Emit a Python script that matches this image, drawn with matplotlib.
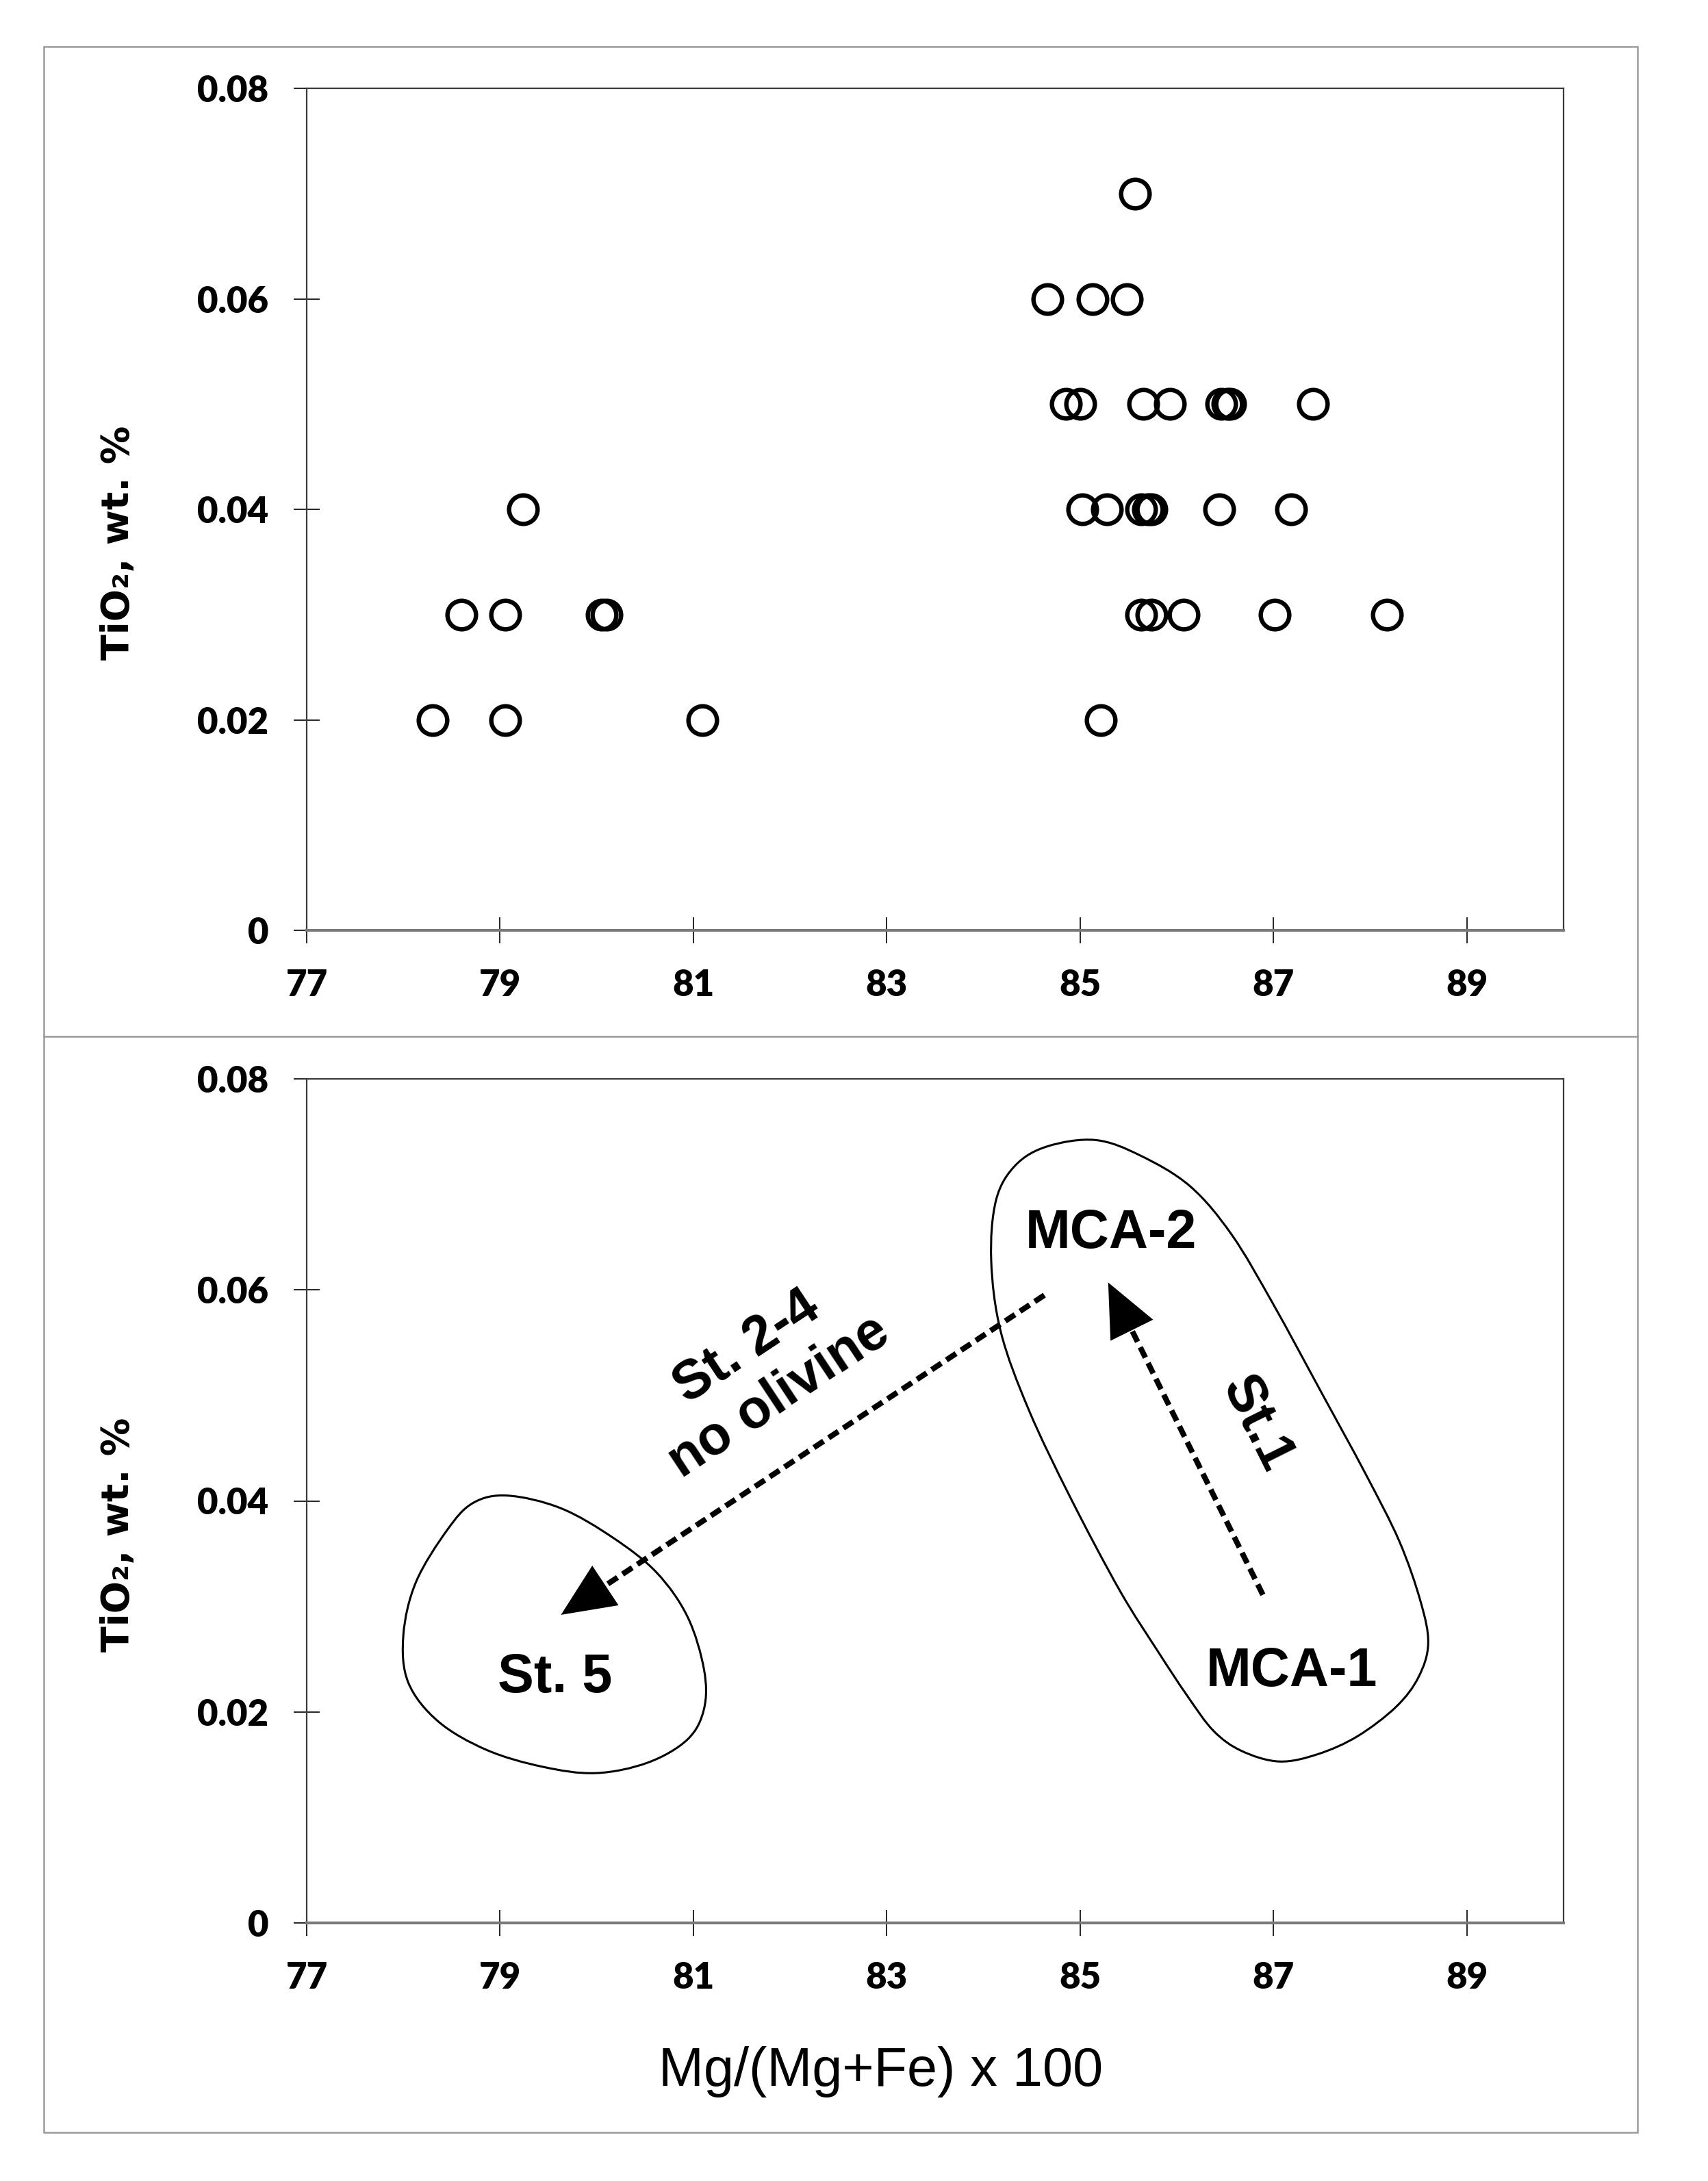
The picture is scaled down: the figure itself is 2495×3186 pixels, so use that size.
import numpy as np
import matplotlib
matplotlib.use("Agg")
import matplotlib.pyplot as plt
from matplotlib.path import Path
from matplotlib.patches import PathPatch, Rectangle
from matplotlib.lines import Line2D

# ---------------- data ----------------
top_x = [78.30, 78.60, 79.05, 79.05, 79.24, 80.05, 80.10, 81.09,
         85.57,
         84.66, 85.13, 85.48,
         84.85, 85.00, 85.65, 85.93, 86.46, 86.52, 86.55, 87.41,
         85.02, 85.28, 85.63, 85.70, 85.74, 86.44, 87.18,
         85.63, 85.74, 86.07, 87.01, 88.17,
         85.21]
top_y = [0.02, 0.03, 0.02, 0.03, 0.04, 0.03, 0.03, 0.02,
         0.07,
         0.06, 0.06, 0.06,
         0.05, 0.05, 0.05, 0.05, 0.05, 0.05, 0.05, 0.05,
         0.04, 0.04, 0.04, 0.04, 0.04, 0.04, 0.04,
         0.03, 0.03, 0.03, 0.03, 0.03,
         0.02]

x_ticks = [77, 79, 81, 83, 85, 87, 89]
y_ticks = [0, 0.02, 0.04, 0.06, 0.08]
y_ticklabels = ["0", "0.02", "0.04", "0.06", "0.08"]

# field outlines (bottom panel)
st5_x = [79.08, 79.63, 80.17, 80.62, 80.94, 81.11, 81.11, 80.94, 80.53, 79.99,
         79.44, 78.86, 78.36, 78.05, 78.00, 78.13, 78.45, 78.72]
st5_y = [0.0405, 0.0393, 0.0365, 0.0332, 0.0290, 0.0240, 0.0203, 0.0174, 0.0152, 0.0142,
         0.0148, 0.0164, 0.0191, 0.0228, 0.0273, 0.0323, 0.0372, 0.0398]

mca_x = [84.66, 85.16, 85.63, 86.14, 86.57, 87.00, 87.50, 87.95, 88.30, 88.52,
         88.60, 88.50, 88.27, 87.87, 87.46, 87.06, 86.67, 86.38, 86.11, 85.80,
         85.41, 84.90, 84.47, 84.18, 84.08, 84.13, 84.33]
mca_y = [0.0736, 0.0742, 0.0727, 0.0698, 0.0652, 0.0586, 0.0502, 0.0426, 0.0362, 0.0305,
         0.0265, 0.0233, 0.0205, 0.0177, 0.0160, 0.0153, 0.0163, 0.0182, 0.0215, 0.0258,
         0.0315, 0.0403, 0.0486, 0.0560, 0.0628, 0.0685, 0.0718]

# arrows: (tail, tip)
arrow_tails = [(84.63, 0.0595), (86.89, 0.0311)]
arrow_tips = [(79.63, 0.0292), (85.29, 0.0607)]

labels = ["MCA-2", "MCA-1", "St. 5", "St.1", "St. 2-4\nno olivine"]
label_x = [85.32, 87.19, 79.57, 86.82, 81.72]
label_y = [0.0653, 0.0238, 0.0232, 0.0473, 0.0522]
label_rot = [0, 0, 0, -63.5, 33.5]

xlabel = "Mg/(Mg+Fe) x 100"
ylabel = "TiO\u2082, wt. %"

# ---------------- figure ----------------
W, H = 2495, 3186
fig = plt.figure(figsize=(W / 100, H / 100), dpi=100)
fig.patch.set_facecolor("white")

ax_left, ax_right = 448 / W, 2284 / W
top_ax = fig.add_axes([ax_left, 1 - 1359 / H, ax_right - ax_left, (1359 - 129) / H])
bot_ax = fig.add_axes([ax_left, 1 - 2809 / H, ax_right - ax_left, (2809 - 1576) / H])

tick_font = dict(family=["Lato", "DejaVu Sans"], weight="heavy", size=38)


def style_axes(ax):
    ax.set_xlim(77, 90)
    ax.set_ylim(0, 0.08)
    ax.set_xticks(x_ticks)
    ax.set_xticklabels([str(v) for v in x_ticks], fontdict=tick_font)
    ax.set_yticks(y_ticks)
    ax.set_yticklabels(y_ticklabels, fontdict=tick_font)
    ax.tick_params(axis="both", direction="inout", length=28, width=1.2,
                   color="black", pad=26)
    ax.tick_params(axis="x", top=False)
    ax.tick_params(axis="y", right=False)
    for s in ["top", "right", "left"]:
        ax.spines[s].set_linewidth(1.6)
        ax.spines[s].set_color("#3a3a3a")
    ax.spines["bottom"].set_linewidth(3.0)
    ax.spines["bottom"].set_color("#7a7a7a")
    ax.set_ylabel(ylabel, family=["DejaVu Sans"], weight="bold", size=40)
    ax.yaxis.set_label_coords(-0.135, 0.46)


style_axes(top_ax)
style_axes(bot_ax)

# top panel scatter
top_ax.plot(top_x, top_y, linestyle="none", marker="o", markersize=30,
            markerfacecolor="none", markeredgecolor="black", markeredgewidth=4.6)


# smooth closed outline through points (Catmull-Rom as cubic Bezier)
def closed_smooth_path(xs, ys):
    P = np.column_stack([xs, ys])
    n = len(P)
    verts = [P[0]]
    codes = [Path.MOVETO]
    for i in range(n):
        p0, p1, p2, p3 = P[(i - 1) % n], P[i], P[(i + 1) % n], P[(i + 2) % n]
        c1 = p1 + (p2 - p0) / 6.0
        c2 = p2 - (p3 - p1) / 6.0
        verts += [c1, c2, p2]
        codes += [Path.CURVE4] * 3
    return Path(np.array(verts), codes)


for xs, ys in [(st5_x, st5_y), (mca_x, mca_y)]:
    bot_ax.add_patch(PathPatch(closed_smooth_path(xs, ys), facecolor="none",
                               edgecolor="black", lw=2.2))

for (tx, ty), (hx, hy) in zip(arrow_tails, arrow_tips):
    ex = tx + 0.93 * (hx - tx)
    ey = ty + 0.93 * (hy - ty)
    bot_ax.plot([tx, ex], [ty, ey], color="black", lw=5.8,
                linestyle=(0, (2.1, 1.1)), dash_capstyle="butt")
    bot_ax.annotate("", xy=(hx, hy), xytext=(tx, ty),
                    arrowprops=dict(arrowstyle="-|>,head_length=56,head_width=25",
                                    mutation_scale=1, lw=0.01, color="black",
                                    shrinkA=0, shrinkB=0))

for t, x, y, r in zip(labels, label_x, label_y, label_rot):
    bot_ax.text(x, y, t, ha="center", va="center", rotation=r,
                rotation_mode="anchor", multialignment="center",
                family=["Liberation Sans", "DejaVu Sans"], weight="bold",
                size=57, linespacing=1.2)

bot_ax.set_xlabel(xlabel, family=["Liberation Sans Narrow", "Liberation Sans"],
                  size=57)
bot_ax.xaxis.set_label_coords(0.457, -0.146)

# outer frame and divider
fx0, fx1 = 64 / W, 2392 / W
fy0, fy1 = 1 - 3115 / H, 1 - 68 / H
fig.add_artist(Rectangle((fx0, fy0), fx1 - fx0, fy1 - fy0, transform=fig.transFigure,
                         fill=False, edgecolor="#9a9a9a", lw=1.8))
fig.add_artist(Line2D([fx0, fx1], [1 - 1514 / H] * 2, transform=fig.transFigure,
                      color="#9a9a9a", lw=1.8))

fig.savefig("out.png", dpi=100, facecolor="white")
